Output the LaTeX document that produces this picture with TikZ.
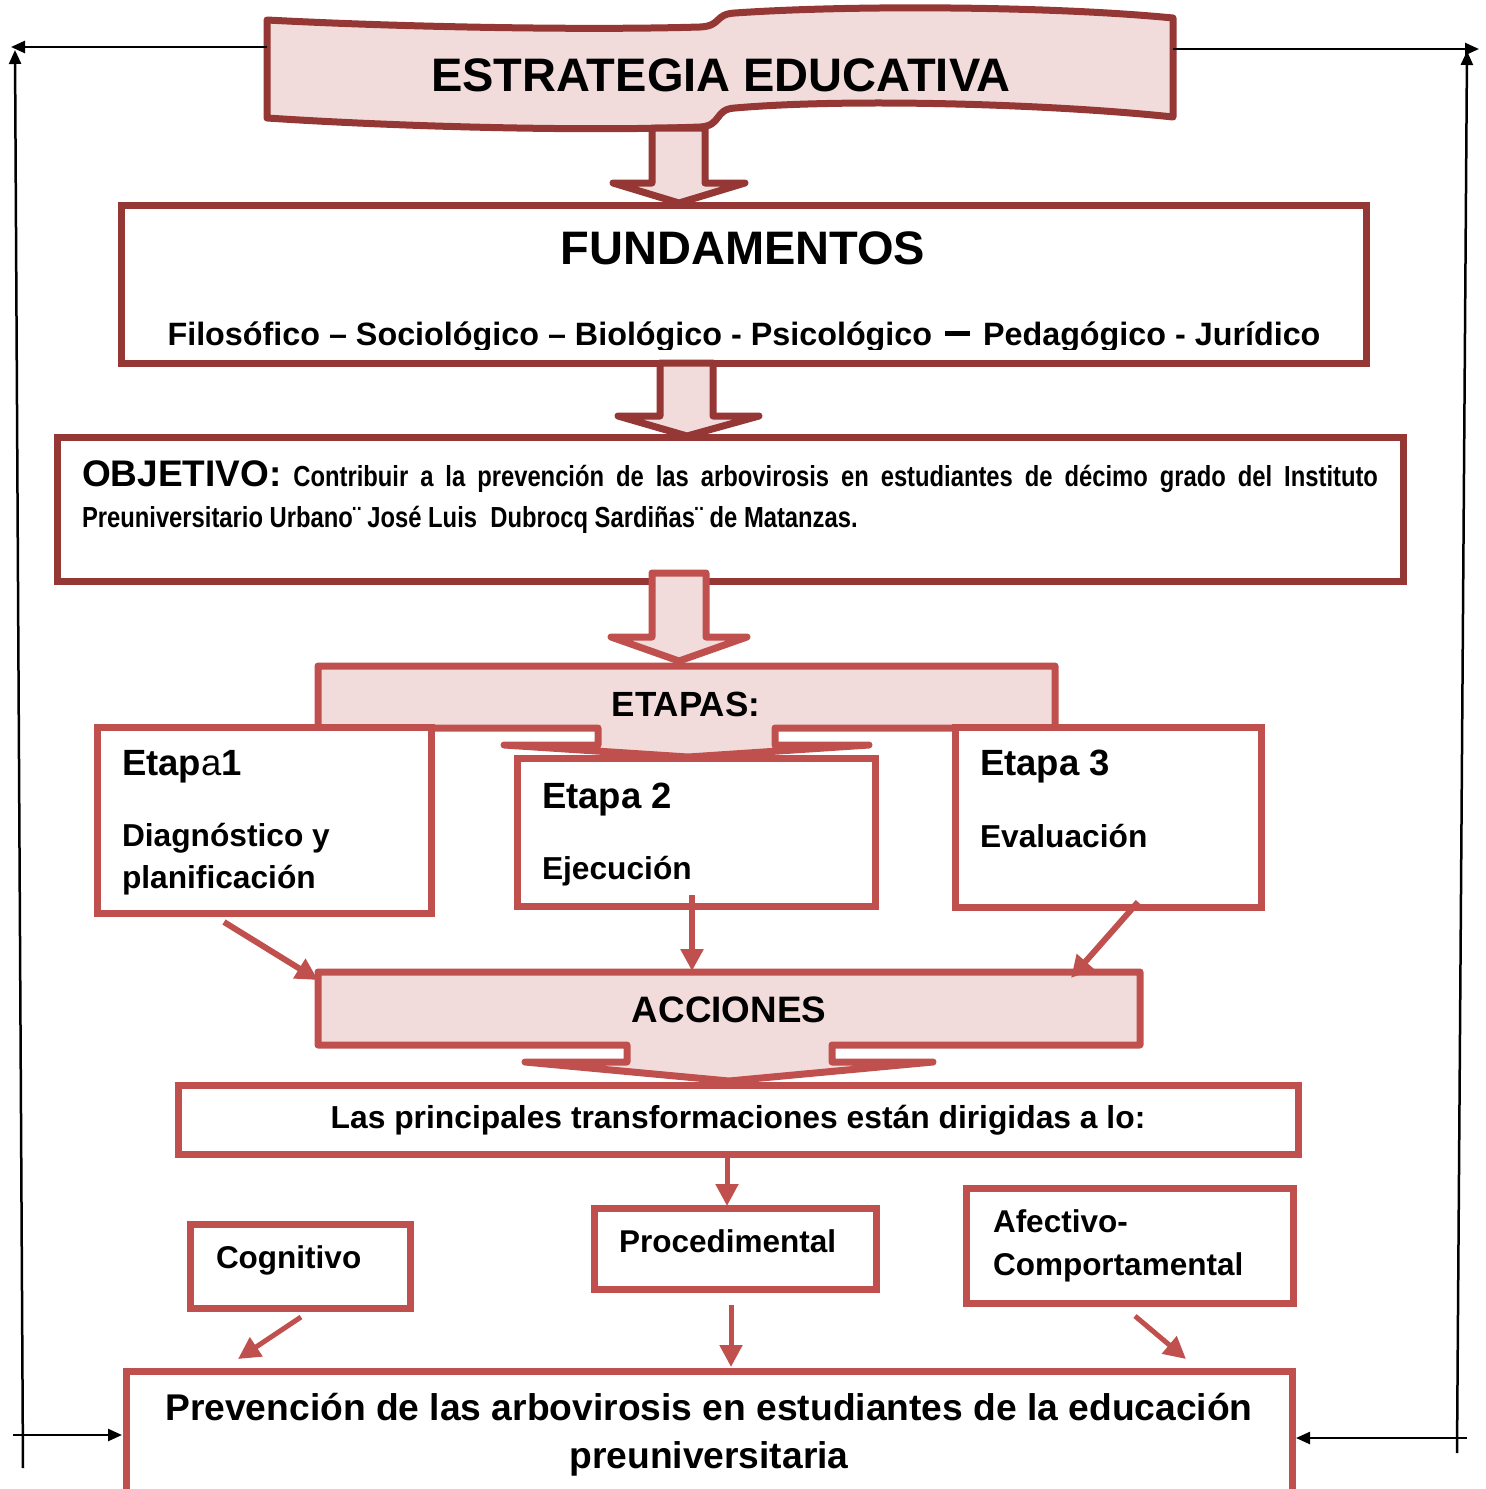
\documentclass[tikz,border=0pt]{standalone}
\usepackage{fontspec}
\setmainfont{Liberation Sans}
\newfontfamily\narrowfont{Liberation Sans}[FakeStretch=0.82]
\usetikzlibrary{arrows.meta}
\definecolor{dred}{HTML}{953735}
\definecolor{lred}{HTML}{C0504D}
\definecolor{pinkfill}{HTML}{F2DCDB}
\newcommand{\fsz}[1]{\fontsize{#1}{#1}\selectfont}
\begin{document}
\begin{tikzpicture}[x=1pt,y=-1pt,line join=miter,
  darkbox/.style={rectangle,draw=dred,line width=7pt,fill=white,inner sep=0pt,outer sep=0pt},
  redbox/.style={rectangle,draw=lred,line width=7pt,fill=white,inner sep=0pt,outer sep=0pt},
  blockdark/.style={draw=dred,line width=7pt,fill=pinkfill,line join=round},
  blockred/.style={draw=lred,line width=7pt,fill=pinkfill,line join=round},
  lbl/.style={inner sep=0pt,outer sep=0pt},
  conn/.style={draw=lred,line width=6pt,-{Triangle[length=22pt,width=22pt]}},
  fb/.style={draw=black,line width=2.5pt,-{Triangle[length=14pt,width=12pt]}}]
\useasboundingbox (0,0) rectangle (1486,1489);

% ---------- top banner ----------
\draw[blockdark] (267,20) .. controls (420,28) and (600,30) .. (700,27)
  .. controls (722,26) and (714,14) .. (735,13)
  .. controls (850,5) and (1050,6) .. (1173,18) -- (1173,117)
  .. controls (1050,104) and (850,98) .. (735,108)
  .. controls (714,109) and (722,126) .. (700,127)
  .. controls (600,131) and (420,128) .. (267,118) -- cycle;
\node[lbl,anchor=base,font={\bfseries\fsz{47}}] (tEstr) at (721,91) {ESTRATEGIA EDUCATIVA};
\coordinate (bannerL) at (267,47);
\coordinate (bannerR) at (1173,49);

% ---------- FUNDAMENTOS ----------
\node[darkbox,minimum width=1245pt,minimum height=158pt] (fund) at (743.5,284) {};
\node[lbl,anchor=base,font={\bfseries\fsz{47}}] (tFund) at (743,264) {FUNDAMENTOS};
\begin{scope}
\clip (130,300) rectangle (1360,349);
\node[lbl,anchor=base,font={\bfseries\fsz{32.3}}] (tFundL) at (744,345)
  {Filosófico – Sociológico – Biológico - Psicológico\hspace{13pt}\rule[9pt]{25pt}{5.5pt}\hspace{13pt}Pedagógico - Jurídico};
\end{scope}

% arrow 1
\draw[blockdark] (652,128) -- (705,128) -- (705,183) -- (745,183) -- (679,203) -- (613,183) -- (652,183) -- cycle;

% ---------- OBJETIVO ----------
\node[darkbox,minimum width=1346pt,minimum height=144pt] (obj) at (730,509) {};
\node[lbl,anchor=base west] (tObj1) at (82,486)
  {\makebox[1296pt][s]{\bfseries\fsz{37}OBJETIVO:\narrowfont\fsz{29} Contribuir a la prevención de las arbovirosis en estudiantes de décimo grado del Instituto}};
\node[lbl,anchor=base west,font={\bfseries\narrowfont\fsz{29}}] (tObj2) at (82,527)
  {Preuniversitario Urbano¨ José Luis\ \ Dubrocq Sardiñas¨ de Matanzas.};

% arrow 2
\draw[blockdark] (660,363) -- (713,363) -- (713,416) -- (759,416) -- (687,436) -- (618,416) -- (660,416) -- cycle;

% arrow 3
\draw[blockred] (652,573) -- (706,573) -- (706,637) -- (747,637) -- (679,661) -- (611,637) -- (652,637) -- cycle;

% ---------- ETAPAS ----------
\draw[blockred] (318,666) -- (1055,666) -- (1055,728) -- (775,728) -- (775,745) -- (869,745)
  -- (688,757) -- (504,745) -- (598,745) -- (598,728) -- (318,728) -- cycle;
\node[lbl,anchor=base,font={\bfseries\fsz{35}}] (tEtapas) at (686,716) {ETAPAS:};

\node[redbox,minimum width=334pt,minimum height=186pt] (e1) at (264,820) {};
\node[redbox,minimum width=358pt,minimum height=148pt] (e2) at (696,832) {};
\node[redbox,minimum width=306pt,minimum height=180pt] (e3) at (1108,817) {};

\node[lbl,anchor=base west,font={\bfseries\fsz{36.5}}] (te1) at (122,775) {Etap{\mdseries a}1};
\node[lbl,anchor=base west,font={\bfseries\fsz{31.7}}] (te1a) at (122,846) {Diagnóstico y};
\node[lbl,anchor=base west,font={\bfseries\fsz{31.7}}] (te1b) at (122,888) {planificación};
\node[lbl,anchor=base west,font={\bfseries\fsz{36.5}}] (te2) at (542,808) {Etapa 2};
\node[lbl,anchor=base west,font={\bfseries\fsz{31.7}}] (te2a) at (542,879) {Ejecución};
\node[lbl,anchor=base west,font={\bfseries\fsz{36.5}}] (te3) at (980,775) {Etapa 3};
\node[lbl,anchor=base west,font={\bfseries\fsz{31.7}}] (te3a) at (980,847) {Evaluación};

% ---------- ACCIONES ----------
\draw[blockred] (318,972) -- (1140,972) -- (1140,1045) -- (832,1045) -- (832,1062) -- (933,1062)
  -- (729,1081) -- (525,1062) -- (627,1062) -- (627,1045) -- (318,1045) -- cycle;
\node[lbl,anchor=base,font={\bfseries\fsz{36.8}}] (tAcc) at (729,1022) {ACCIONES};

\coordinate (e1o) at (224,922);  \coordinate (acc1) at (318,980);
\coordinate (e2o) at (692,895);  \coordinate (acc2) at (692,971);
\coordinate (e3o) at (1138,902); \coordinate (acc3) at (1071,978);
\draw[conn] (e1o) -- (acc1);
\draw[conn] (e2o) -- (acc2);
\draw[conn] (e3o) -- (acc3);

% ---------- transformaciones ----------
\node[redbox,minimum width=1120pt,minimum height=69pt] (trans) at (738,1119.5) {};
\node[lbl,anchor=base,font={\bfseries\fsz{31.8}}] (tTrans) at (738,1128) {Las principales transformaciones están dirigidas a lo:};

\node[redbox,minimum width=220pt,minimum height=84pt] (cog) at (300,1266) {};
\node[redbox,minimum width=282pt,minimum height=81pt] (proc) at (735,1248.5) {};
\node[redbox,minimum width=327pt,minimum height=115pt] (afec) at (1129.5,1245.5) {};
\node[lbl,anchor=base west,font={\bfseries\fsz{31.5}}] (tCog) at (216,1268) {Cognitivo};
\node[lbl,anchor=base west,font={\bfseries\fsz{31.5}}] (tProc) at (619,1252) {Procedimental};
\node[lbl,anchor=base west,font={\bfseries\fsz{31.5}}] (tAfec1) at (993,1232) {Afectivo-};
\node[lbl,anchor=base west,font={\bfseries\fsz{31.5}}] (tAfec2) at (993,1275) {Comportamental};

\coordinate (transo) at (727,1157); \coordinate (proci) at (727,1206);
\draw[conn,line width=5pt] (transo) -- (proci);

\coordinate (cogo) at (301,1317);  \coordinate (prev1) at (238,1359);
\coordinate (proco) at (731,1305); \coordinate (prev2) at (731,1367);
\coordinate (afeco) at (1135,1316); \coordinate (prev3) at (1186,1359);
\draw[conn,line width=5pt] (cogo) -- (prev1);
\draw[conn,line width=5pt] (proco) -- (prev2);
\draw[conn,line width=5pt] (afeco) -- (prev3);

% ---------- bottom box ----------
\draw[draw=lred,line width=7pt] (126,1500) -- (126,1371) -- (1292,1371) -- (1292,1500);
\node[lbl,anchor=base,font={\bfseries\fsz{37.2}}] (tPrev1) at (709,1420) {Prevención de las arbovirosis en estudiantes de la educación};
\node[lbl,anchor=base,font={\bfseries\fsz{37.2}}] (tPrev2) at (709,1468) {preuniversitaria};

% ---------- feedback lines ----------
\coordinate (tlc) at (11,47);
\coordinate (tlv) at (15,50);
\coordinate (blb) at (23,1468);
\coordinate (blh) at (13,1435);
\coordinate (prevL) at (122,1435);
\coordinate (trc) at (1479,49);
\coordinate (trv) at (1467,51);
\coordinate (brb) at (1457,1453);
\coordinate (brh) at (1467,1438);
\coordinate (prevR) at (1296,1438);
\draw[fb] (bannerL) -- (tlc);
\draw[fb] (blb) -- (tlv);
\draw[fb] (blh) -- (prevL);
\draw[fb] (bannerR) -- (trc);
\draw[fb] (brb) -- (trv);
\draw[fb] (brh) -- (prevR);
\end{tikzpicture}
\end{document}
